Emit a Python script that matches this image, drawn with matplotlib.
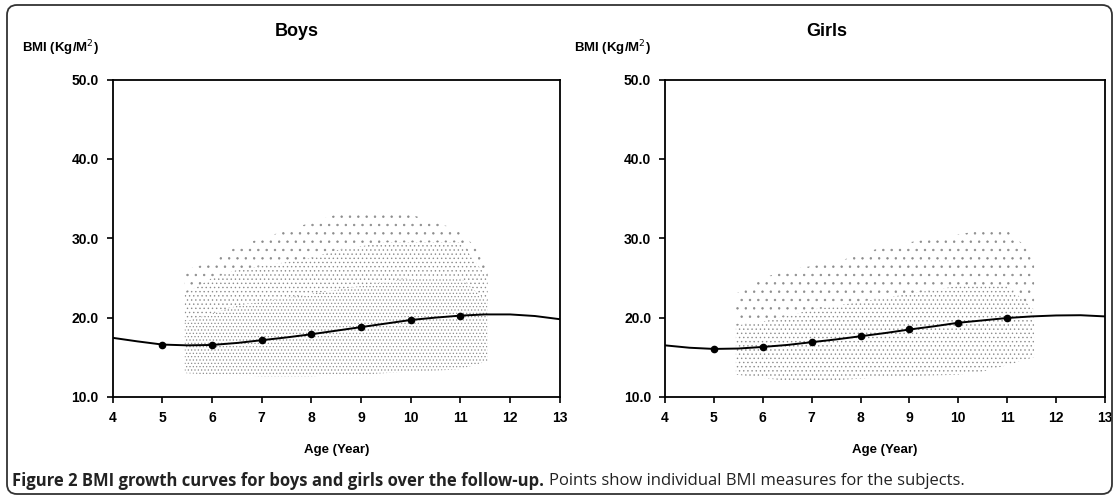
import matplotlib
matplotlib.use("Agg")
import matplotlib.pyplot as plt
import numpy as np
from matplotlib.patches import FancyBboxPatch
from matplotlib.transforms import IdentityTransform

# fitted curve values
curve_age = [4, 4.5, 5, 5.5, 6, 6.5, 7, 7.5, 8, 8.5, 9, 9.5, 10, 10.5, 11, 11.5, 12, 12.5, 13]
boys_curve = [17.45, 17.0, 16.6, 16.5, 16.55, 16.8, 17.15, 17.5, 17.9, 18.35, 18.8, 19.25,
              19.7, 20.0, 20.25, 20.4, 20.4, 20.2, 19.8]
girls_curve = [16.5, 16.2, 16.05, 16.1, 16.3, 16.55, 16.9, 17.25, 17.65, 18.05, 18.5, 18.9,
               19.35, 19.65, 19.95, 20.15, 20.27, 20.3, 20.15]

# mean BMI at each age
dot_age = [5, 6, 7, 8, 9, 10, 11]
boys_dots = [16.5, 16.56, 17.16, 17.88, 18.84, 19.68, 20.23]
girls_dots = [16.03, 16.32, 16.91, 17.66, 18.5, 19.34, 19.93]

# envelope of the individual measures cloud (low edge, dense top, sparse top)
cloud_age = [5.45, 6, 6.5, 7, 7.5, 8, 8.5, 9, 9.5, 10, 10.5, 11, 11.55]
boys_low = [13.0, 12.8, 12.7, 12.6, 12.6, 12.6, 12.7, 12.8, 13.0, 13.2, 13.3, 13.5, 14.5]
boys_dense = [19.5, 20.5, 21.5, 22.0, 22.5, 23.0, 23.5, 24.0, 24.5, 25.0, 25.0, 25.0, 22.0]
boys_mid = [23.0, 25.0, 26.0, 26.5, 27.0, 27.5, 28.5, 29.0, 29.5, 29.5, 29.5, 29.5, 25.0]
boys_top = [26.0, 27.0, 29.0, 30.0, 31.0, 32.0, 33.0, 33.0, 33.0, 33.0, 32.0, 31.0, 27.0]
girls_low = [12.8, 12.4, 12.0, 11.9, 12.1, 12.3, 12.5, 12.6, 12.7, 12.8, 13.2, 14.0, 15.0]
girls_dense = [19.0, 19.5, 20.2, 21.0, 21.5, 22.0, 22.5, 23.0, 23.5, 24.0, 24.0, 24.0, 21.0]
girls_top = [23.0, 25.0, 26.0, 26.5, 27.0, 28.0, 29.0, 29.5, 30.0, 30.5, 31.0, 31.0, 28.0]

x_ticks = [4, 5, 6, 7, 8, 9, 10, 11, 12, 13]
y_ticks = [10, 20, 30, 40, 50]

plt.rcParams['font.family'] = ['Liberation Sans', 'DejaVu Sans']
plt.rcParams['hatch.linewidth'] = 0.5

fig = plt.figure(figsize=(11.19, 4.98), dpi=100)

panels = [
    ("Boys", [0.1007, 0.203, 0.3995, 0.637], boys_curve, boys_dots,
     [(boys_low, boys_dense, '.....'), (boys_dense, boys_mid, '....'), (boys_mid, boys_top, '..')], 0.265),
    ("Girls", [0.5943, 0.203, 0.3932, 0.637], girls_curve, girls_dots,
     [(girls_low, girls_dense, '....'), (girls_dense, girls_top, '..')], 0.739),
]

for title, rect, curve, dots, tiers, title_x in panels:
    ax = fig.add_axes(rect)
    for lo, hi, hatch in tiers:
        ax.fill_between(cloud_age, lo, hi, facecolor='none', edgecolor='#8c8c8c',
                        hatch=hatch, linewidth=0)
    ax.plot(curve_age, curve, color='black', lw=1.4)
    ax.plot(dot_age, dots, 'o', color='black', ms=4.5)
    ax.set_xlim(4, 13)
    ax.set_ylim(10, 50)
    ax.set_xticks(x_ticks)
    ax.set_yticks(y_ticks)
    ax.set_yticklabels(["%.1f" % v for v in y_ticks])
    ax.tick_params(direction='out', length=4, width=1.2, labelsize=10, pad=6)
    for lab in ax.get_xticklabels() + ax.get_yticklabels():
        lab.set_fontweight('bold')
    for sp in ax.spines.values():
        sp.set_linewidth(1.3)
    ax.set_xlabel("Age (Year)", fontsize=9.5, fontweight='bold', labelpad=14)
    fig.text(title_x, 0.937, title, fontsize=13, fontweight='bold', ha='center', va='center')
    fig.text(rect[0] - 0.081, 0.903, "BMI (Kg/M$^{2}$)", fontsize=9.5, fontweight='bold',
             ha='left', va='center')

# caption, bold part then normal part
cap1 = fig.text(0.011, 0.034, "Figure 2 BMI growth curves for boys and girls over the follow-up.",
                fontsize=12, fontweight='bold', family='Open Sans', va='center', color='#222222')
fig.canvas.draw()
bb = cap1.get_window_extent()
fig.text((bb.x1 + 5) / fig.bbox.width, 0.034, "Points show individual BMI measures for the subjects.",
         fontsize=12, family='Open Sans', va='center', color='#222222')

# rounded border around the whole figure
border = FancyBboxPatch((7, 4), 1105, 489, boxstyle="round,pad=0,rounding_size=10",
                        transform=IdentityTransform(), facecolor='none', edgecolor='#333333',
                        linewidth=1.3)
fig.patches.append(border)

fig.savefig("out.png", dpi=100)
